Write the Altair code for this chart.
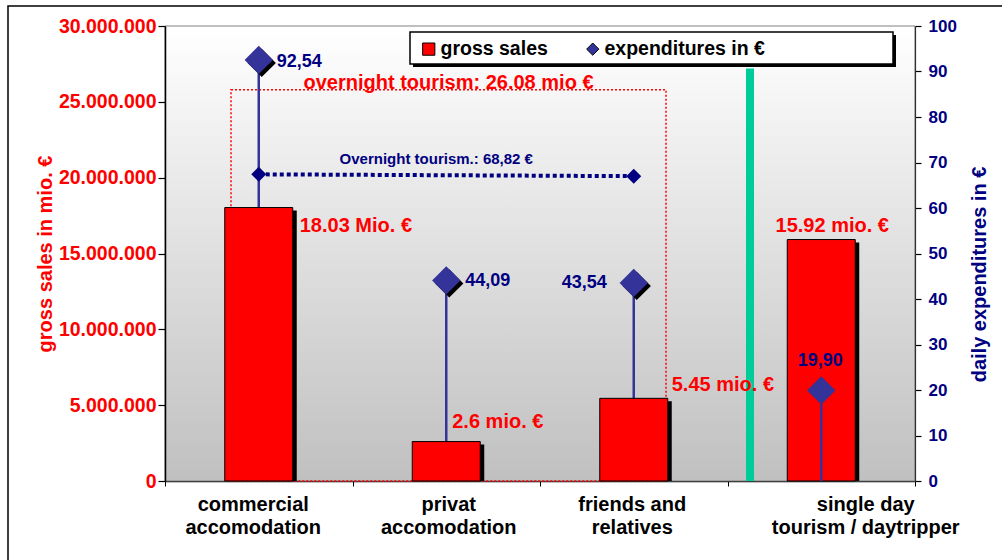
import json
import altair as alt
import pandas as pd

# ---------------- data ----------------
categories = ["commercial accomodation", "privat accomodation",
              "friends and relatives", "single day tourism / daytripper"]
category_lines = [["commercial", "accomodation"], ["privat", "accomodation"],
                  ["friends and", "relatives"], ["single day", "tourism / daytripper"]]
gross_sales = [18030000, 2600000, 5450000, 15920000]
sales_labels = ["18.03 Mio. €", "2.6 mio. €", "5.45 mio. €", "15.92 mio. €"]
expenditures = [92.54, 44.09, 43.54, 19.90]
exp_labels = ["92,54", "44,09", "43,54", "19,90"]
overnight_members = ["commercial accomodation", "friends and relatives"]
overnight_line_values = [67.4, 67.0]
overnight_avg_label = "Overnight tourism.: 68,82 €"
overnight_box_top = 25800000
overnight_total_label = "overnight tourism: 26.08 mio €"
sales_ticks = [0, 5000000, 10000000, 15000000, 20000000, 25000000, 30000000]
exp_ticks = [0, 10, 20, 30, 40, 50, 60, 70, 80, 90, 100]
series_names = ["gross sales", "expenditures in €"]

# ---------------- frames ----------------
n = len(categories)
positions = [i + 0.5 for i in range(n)]
sales_df = pd.DataFrame({"category": categories, "pos": positions, "sales": gross_sales,
                         "label": sales_labels, "series": series_names[0]})
exp_df = pd.DataFrame({"category": categories, "pos": positions, "exp": expenditures,
                       "label": exp_labels, "series": series_names[1]})
line_df = pd.DataFrame({"category": overnight_members,
                        "pos": [positions[categories.index(c)] for c in overnight_members],
                        "exp": overnight_line_values})
one = pd.DataFrame({"k": [0]})

FONT = "Liberation Sans"
RED = "#FF0000"
NAVY = "#000080"
BLUE = "#333399"

XS = alt.Scale(domain=[0, n], nice=False, zero=False, padding=0)
YL = alt.Scale(domain=[0, 30000000], nice=False, zero=True, padding=0)
YR = alt.Scale(domain=[0, 100], nice=False, zero=True, padding=0)
COLOR = alt.Scale(domain=series_names, range=[RED, BLUE])
SHAPE = alt.Scale(domain=series_names, range=["square", "diamond"])

# x axis: line + ticks at category boundaries
x_tick_axis = alt.Axis(
    orient="bottom", values=list(range(n + 1)), labels=False, title=None, grid=False,
    domainColor="#000000", domainWidth=1.5, tickColor="#000000", tickWidth=1, tickSize=5,
)


# one label-only x axis per category (lets each name sit where the original put it)
def label_axis(i, offset):
    return alt.Axis(
        orient="bottom", values=[positions[i]],
        labelExpr=f"{json.dumps(category_lines)}[floor(datum.value)]",
        title=None, grid=False, domain=False, ticks=False,
        labelFont=FONT, labelFontSize=20, labelFontWeight="bold", labelColor="#000000",
        labelLineHeight=23, labelPadding=13, labelAngle=0, labelAlign="center",
        labelBaseline="top", labelOverlap=False, labelFlush=False, labelLimit=400,
        labelOffset=offset,
    )


left_axis = alt.Axis(
    orient="left", values=sales_ticks,
    labelExpr="datum.value == 0 ? '0' : format(datum.value / 1000000, 'd') + '.000.000'",
    title="gross sales in mio. €", grid=False, domainColor="#000000", domainWidth=1.5,
    tickColor="#000000", tickSize=7, tickWidth=1.2, labelColor=RED, labelFont=FONT,
    labelFontSize=19.5, labelFontWeight="bold", labelPadding=2, labelFlush=False,
    titleColor=RED, titleFont=FONT, titleFontSize=20, titleFontWeight="bold",
    titleAngle=270, titleX=-120, titleY=227.5, titleAlign="center",
    titleBaseline="middle", zindex=1,
)
right_axis = alt.Axis(
    orient="right", values=exp_ticks, title="daily expenditures in €", grid=False,
    domainColor="#303030", domainWidth=1.2, tickColor="#000000", tickSize=6, tickWidth=1.2,
    labelColor=NAVY, labelFont=FONT, labelFontSize=17, labelFontWeight="bold",
    labelPadding=7, labelFlush=False,
    titleColor=NAVY, titleFont=FONT, titleFontSize=20, titleFontWeight="bold",
    titleAngle=270, titleX=64, titleY=248, titleAlign="center", titleBaseline="middle",
    zindex=1,
)
LEGEND = alt.Legend(
    title=None, orient="none", legendX=254, legendY=13, direction="horizontal",
    labelFont=FONT, labelFontSize=19.5, labelFontWeight="bold", labelColor="#000000",
    labelLimit=400, symbolSize=150, symbolStrokeColor="#000000", symbolStrokeWidth=1,
    columnPadding=35, labelOffset=2, padding=0,
)


def X(field, axis=None):
    return alt.X(field, type="quantitative", scale=XS, axis=axis)


layers = []

# plot background gradient (whole data domain)
gradient = alt.Gradient(
    gradient="linear",
    stops=[alt.GradientStop(color="#FFFFFF", offset=0), alt.GradientStop(color="#C0C0C0", offset=1)],
    x1=0, x2=0, y1=0, y2=1,
)
layers.append(
    alt.Chart(one).mark_rect(fill=gradient, stroke="#808080", strokeWidth=1).encode(
        x=alt.X(datum=0, type="quantitative", scale=XS, axis=None),
        x2=alt.X2(datum=n),
        y=alt.Y(datum=0, type="quantitative", scale=YL, axis=None),
        y2=alt.Y2(datum=30000000),
    )
)

# legend box decoration (shadow + white box); the legend itself is native
layers.append(
    alt.Chart(one).mark_rect(color="#000000").encode(
        x=alt.value(248), x2=alt.value(731), y=alt.value(9), y2=alt.value(41))
)
layers.append(
    alt.Chart(one).mark_rect(fill="#FFFFFF", stroke="#000000", strokeWidth=1.5).encode(
        x=alt.value(245), x2=alt.value(728), y=alt.value(6), y2=alt.value(38))
)

# overnight tourism dotted box
layers.append(
    alt.Chart(one).mark_rect(fill="transparent", stroke=RED, strokeWidth=1.5, strokeDash=[2, 2]).encode(
        x=alt.X(datum=0.352, type="quantitative", scale=XS, axis=None),
        x2=alt.X2(datum=2.672),
        y=alt.Y(datum=0, type="quantitative", scale=YL, axis=None),
        y2=alt.Y2(datum=overnight_box_top),
    )
)

# green separator
layers.append(
    alt.Chart(one).mark_rule(color="#00CC99", strokeWidth=8).encode(
        x=alt.X(datum=3.12, type="quantitative", scale=XS, axis=None),
        y=alt.Y(datum=0, type="quantitative", scale=YL, axis=None),
        y2=alt.Y2(datum=27200000),
    )
)

front_cat = categories[3]
back_filter = alt.datum.category != front_cat
front_filter = alt.datum.category == front_cat

# stems behind bars
layers.append(
    alt.Chart(exp_df).transform_filter(back_filter).mark_rule(color=BLUE, strokeWidth=2.5).encode(
        x=X("pos"), y=alt.Y("exp:Q", scale=YR, axis=None), y2=alt.Y2(datum=0))
)

# bar shadows (carry the tick x axis)
layers.append(
    alt.Chart(sales_df).mark_bar(size=68, color="#000000", xOffset=4, yOffset=3, clip=True).encode(
        x=X("pos", axis=x_tick_axis), y=alt.Y("sales:Q", scale=YL, axis=None))
)
# bars (carry left axis)
layers.append(
    alt.Chart(sales_df).mark_bar(size=68, stroke="#000000", strokeWidth=1).encode(
        x=X("pos"), y=alt.Y("sales:Q", scale=YL, axis=left_axis),
        color=alt.Color("series:N", scale=COLOR, legend=LEGEND))
)

# stems in front
layers.append(
    alt.Chart(exp_df).transform_filter(front_filter).mark_rule(color=BLUE, strokeWidth=2.5).encode(
        x=X("pos"), y=alt.Y("exp:Q", scale=YR, axis=None), y2=alt.Y2(datum=0))
)

# diamond shadows
layers.append(
    alt.Chart(exp_df).transform_filter(back_filter).mark_point(
        shape="diamond", filled=True, size=800, color="#000000", opacity=1, xOffset=3, yOffset=3).encode(
        x=X("pos"), y=alt.Y("exp:Q", scale=YR, axis=None))
)
# diamonds (carry right axis)
layers.append(
    alt.Chart(exp_df).mark_point(filled=True, size=800, opacity=1).encode(
        x=X("pos"), y=alt.Y("exp:Q", scale=YR, axis=right_axis),
        color=alt.Color("series:N", scale=COLOR, legend=LEGEND),
        shape=alt.Shape("series:N", scale=SHAPE, legend=LEGEND))
)

# overnight average dotted line
layers.append(
    alt.Chart(line_df).mark_line(color=NAVY, strokeWidth=4, strokeDash=[4, 3]).encode(
        x=X("pos"), y=alt.Y("exp:Q", scale=YR, axis=None))
)
layers.append(
    alt.Chart(line_df).mark_point(shape="diamond", filled=True, size=225, color=NAVY, opacity=1).encode(
        x=X("pos"), y=alt.Y("exp:Q", scale=YR, axis=None))
)

# value labels (offsets in pixels relative to bar top / diamond)
sales_offsets = {
    categories[0]: (41, 18.5, "left"),
    categories[1]: (6, -20, "left"),
    categories[2]: (38, -13, "left"),
    categories[3]: (11, -13.5, "center"),
}
exp_offsets = {
    categories[0]: (18, 2, "left"),
    categories[1]: (19, 1, "left"),
    categories[2]: (-27, 0, "right"),
    categories[3]: (-1, -29.5, "center"),
}
name_offsets = [-6, 2, -2, 44]
for i, cat in enumerate(categories):
    dx, dy, al = sales_offsets[cat]
    layers.append(
        alt.Chart(sales_df).transform_filter(alt.datum.category == cat).mark_text(
            font=FONT, fontSize=20, fontWeight="bold", color=RED, dx=dx, dy=dy,
            align=al, baseline="middle").encode(
            x=X("pos", axis=label_axis(i, name_offsets[i])),
            y=alt.Y("sales:Q", scale=YL, axis=None), text="label:N")
    )
    dx, dy, al = exp_offsets[cat]
    layers.append(
        alt.Chart(exp_df).transform_filter(alt.datum.category == cat).mark_text(
            font=FONT, fontSize=18, fontWeight="bold", color=NAVY, dx=dx, dy=dy,
            align=al, baseline="middle").encode(
            x=X("pos"), y=alt.Y("exp:Q", scale=YR, axis=None), text="label:N")
    )

# annotation texts
layers.append(
    alt.Chart(one).mark_text(text=overnight_total_label, font=FONT, fontSize=20, fontWeight="bold",
                             color=RED, dy=-7, align="center", baseline="middle").encode(
        x=alt.X(datum=(0.352 + 2.672) / 2, type="quantitative", scale=XS, axis=None),
        y=alt.Y(datum=overnight_box_top, type="quantitative", scale=YL, axis=None))
)
layers.append(
    alt.Chart(one).mark_text(text=overnight_avg_label, font=FONT, fontSize=15, fontWeight="bold",
                             color=NAVY, dx=-10, dy=-16, align="center", baseline="middle").encode(
        x=alt.X(datum=sum(line_df["pos"]) / 2, type="quantitative", scale=XS, axis=None),
        y=alt.Y(datum=sum(overnight_line_values) / 2, type="quantitative", scale=YR, axis=None))
)

# outer frame
layers.append(
    alt.Chart(one).mark_rect(fill="transparent", stroke="#000000", strokeWidth=1.5).encode(
        x=alt.value(-157), x2=alt.value(845), y=alt.value(-20), y2=alt.value(545))
)

chart = alt.layer(*layers).resolve_scale(x="independent", y="independent").properties(
    width=750, height=455, autosize="none",
    padding={"left": 165, "top": 26, "right": 87, "bottom": 79},
    background="white",
).configure_view(strokeWidth=0)

chart.save("out.html", embed_options={"renderer": "svg", "actions": False})
